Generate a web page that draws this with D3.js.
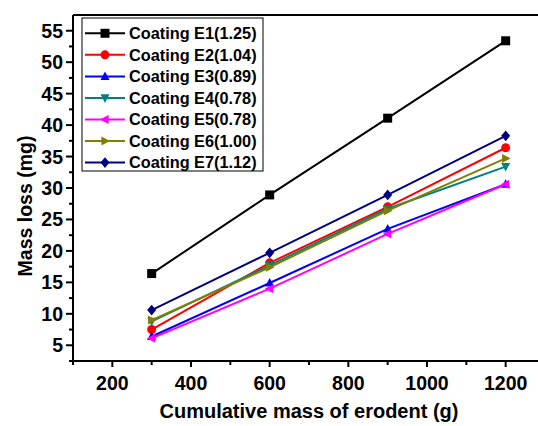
<!DOCTYPE html>
<html><head><meta charset="utf-8">
<script src="https://cdn.jsdelivr.net/npm/d3@7"></script>
<style>body{margin:0;background:#fff}svg{display:block}text{font-family:"Liberation Sans",Arial,sans-serif;font-weight:bold}</style>
</head><body><svg id="c" width="538" height="426"></svg>
<script>
const xValues = [300, 600, 900, 1200];
const seriesNames = ["Coating E1(1.25)","Coating E2(1.04)","Coating E3(0.89)","Coating E4(0.78)","Coating E5(0.78)","Coating E6(1.00)","Coating E7(1.12)"];
const e1 = [16.4, 28.9, 41.1, 53.4];
const e2 = [7.5, 18.1, 27.0, 36.4];
const e3 = [6.4, 14.9, 23.5, 30.6];
const e4 = [8.8, 17.7, 26.7, 33.4];
const e5 = [6.1, 14.0, 22.7, 30.6];
const e6 = [9.0, 17.4, 26.4, 34.7];
const e7 = [10.6, 19.7, 28.9, 38.3];
const seriesColors = ["#000000","#ff0000","#0000ff","#008080","#ff00ff","#808000","#000080"];
const seriesSymbols = ["square","circle","triUp","triDown","triLeft","triRight","diamond"];
const xTicks = [200, 400, 600, 800, 1000, 1200];
const yTicks = [5,10,15,20,25,30,35,40,45,50,55];
const seriesData = [e1,e2,e3,e4,e5,e6,e7];

const svg = d3.select("#c");
const x = d3.scaleLinear().domain([100, 1300]).range([73, 545]);
const y = d3.scaleLinear().domain([2.5, 57.5]).range([361, 15]);

const xMinor = d3.range(100, 1300, 100).filter(v => v % 200 !== 0);
const yMinor = d3.range(2.5, 57.5, 5);

const gx = svg.append("g").attr("transform", `translate(0,${y(2.5)})`);
gx.append("line").attr("x1", x(100)).attr("x2", 538).attr("stroke","#000").attr("stroke-width",2);
gx.selectAll(".maj").data(xTicks).join("line").attr("x1", d=>x(d)).attr("x2", d=>x(d)).attr("y1",0).attr("y2",6).attr("stroke","#000").attr("stroke-width",2);
gx.selectAll(".min").data(xMinor).join("line").attr("class","min").attr("x1", d=>x(d)).attr("x2", d=>x(d)).attr("y1",0).attr("y2",4).attr("stroke","#000").attr("stroke-width",2);
gx.selectAll("text").data(xTicks).join("text").attr("x", d=>x(d)).attr("y", 29).attr("text-anchor","middle").attr("font-size",19.5).text(d=>d);

const gy = svg.append("g").attr("transform", `translate(${x(100)},0)`);
gy.append("line").attr("y1", y(2.5)).attr("y2", y(57.5)).attr("stroke","#000").attr("stroke-width",2);
gy.selectAll(".maj").data(yTicks).join("line").attr("class","maj").attr("y1", d=>y(d)).attr("y2", d=>y(d)).attr("x1",0).attr("x2",-7).attr("stroke","#000").attr("stroke-width",2);
gy.selectAll(".min").data(yMinor).join("line").attr("class","min").attr("y1", d=>y(d)).attr("y2", d=>y(d)).attr("x1",0).attr("x2",-4).attr("stroke","#000").attr("stroke-width",2);
gy.selectAll("text").data(yTicks).join("text").attr("x", -10).attr("y", d=>y(d)).attr("dy","0.36em").attr("text-anchor","end").attr("font-size",19.5).text(d=>d);

svg.append("line").attr("x1", x(100)).attr("x2", 538).attr("y1", y(57.5)).attr("y2", y(57.5)).attr("stroke","#000").attr("stroke-width",2);

svg.append("text").attr("x", 309).attr("y", 418).attr("text-anchor","middle").attr("font-size",20).text("Cumulative mass of erodent (g)");
svg.append("text").attr("transform","translate(32,206) rotate(-90)").attr("text-anchor","middle").attr("font-size",19.5).text("Mass loss (mg)");

function symbolPath(type, s) {
  const h = s/2;
  switch(type){
    case "square": return `M${-h},${-h}H${h}V${h}H${-h}Z`;
    case "circle": return d3.symbol(d3.symbolCircle, Math.PI*h*h)();
    case "triUp": return `M0,${-h*1.1}L${h},${h*0.8}L${-h},${h*0.8}Z`;
    case "triDown": return `M0,${h*1.1}L${h},${-h*0.8}L${-h},${-h*0.8}Z`;
    case "triLeft": return `M${-h*1.1},0L${h*0.8},${-h}L${h*0.8},${h}Z`;
    case "triRight": return `M${h*1.1},0L${-h*0.8},${-h}L${-h*0.8},${h}Z`;
    case "diamond": return `M0,${-h*1.2}L${h},0L0,${h*1.2}L${-h},0Z`;
  }
}

const line = d3.line().x((d,i)=>x(xValues[i])).y(d=>y(d));
seriesData.forEach((vals, k) => {
  const g = svg.append("g");
  g.append("path").attr("d", line(vals)).attr("fill","none").attr("stroke", seriesColors[k]).attr("stroke-width",2);
  g.selectAll("path.m").data(vals).join("path").attr("class","m")
    .attr("transform",(d,i)=>`translate(${x(xValues[i])},${y(d)})`)
    .attr("d", symbolPath(seriesSymbols[k], 9)).attr("fill", seriesColors[k]);
});

const lg = svg.append("g");
lg.append("rect").attr("x",82).attr("y",18).attr("width",181).attr("height",153).attr("fill","#fff").attr("stroke","#000").attr("stroke-width",1);
seriesNames.forEach((name,k)=>{
  const ly = 33.3 + k*21.55;
  lg.append("line").attr("x1",85).attr("x2",125).attr("y1",ly).attr("y2",ly).attr("stroke",seriesColors[k]).attr("stroke-width",2);
  lg.append("path").attr("transform",`translate(105,${ly})`).attr("d", symbolPath(seriesSymbols[k], 9)).attr("fill",seriesColors[k]);
  lg.append("text").attr("x",129).attr("y",ly).attr("dy","0.36em").attr("font-size",16.3).text(name);
});
</script></body></html>
